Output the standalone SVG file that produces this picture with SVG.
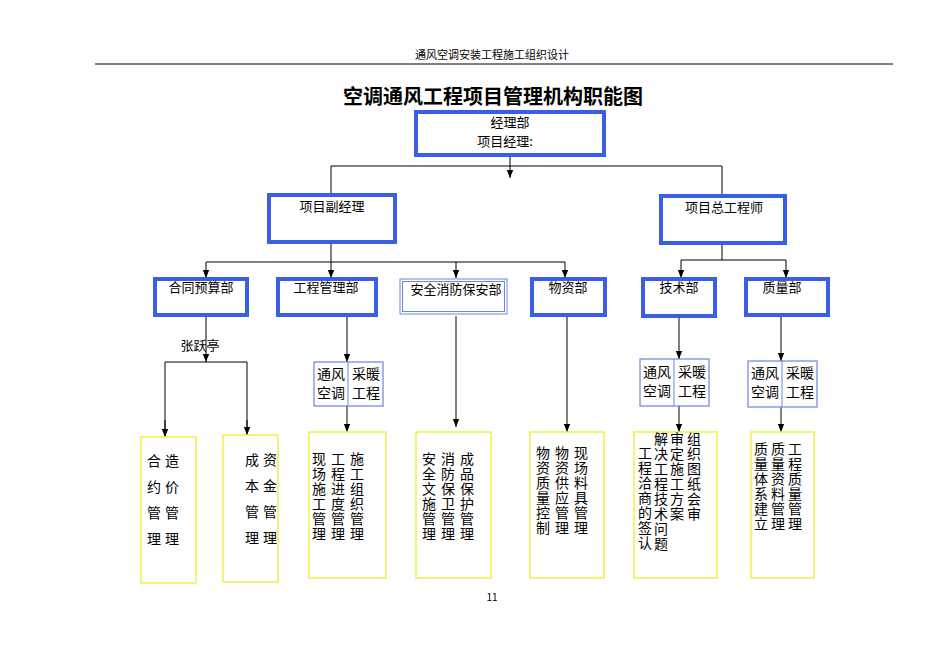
<svg xmlns="http://www.w3.org/2000/svg" width="950" height="672" viewBox="0 0 950 672">
<style>
text{font-family:"Noto Sans CJK SC","Liberation Serif",serif;fill:#000}
.t{font-size:13px}
.b{fill:#fff;stroke:#3a5ee8;stroke-width:4}
.s{fill:#fff;stroke:#6b86e0;stroke-width:1.2}
.y{fill:#fff;stroke:#f2ee4a;stroke-width:1.5}
.v{font-size:14px;writing-mode:vertical-rl;letter-spacing:1px}
.c line,.c path{stroke:#000;stroke-width:1;fill:none}
</style>
<defs><marker id="a" viewBox="0 0 10 10" refX="10" refY="5" markerWidth="8" markerHeight="8" orient="auto"><path d="M0,1L10,5L0,9z" fill="#000"/></marker></defs>
<text x="492" y="59" font-size="11" text-anchor="middle">通风空调安装工程施工组织设计</text>
<line x1="95" y1="64" x2="893" y2="64" stroke="#000"/>
<text x="493" y="104" font-size="20" font-weight="bold" text-anchor="middle">空调通风工程项目管理机构职能图</text>
<text x="492" y="601" font-size="10" font-family="Liberation Serif" text-anchor="middle">11</text>
<g class="c">
<line x1="510" y1="156" x2="510" y2="178" marker-end="url(#a)"/>
<path d="M331,194V166H722V195"/>
<path d="M331,243V262"/>
<line x1="206" y1="262" x2="565" y2="262"/>
<line x1="206" y1="262" x2="206" y2="278" marker-end="url(#a)"/>
<line x1="331" y1="262" x2="331" y2="278" marker-end="url(#a)"/>
<line x1="456" y1="262" x2="456" y2="278" marker-end="url(#a)"/>
<line x1="565" y1="262" x2="565" y2="278" marker-end="url(#a)"/>
<path d="M722,244V260"/>
<line x1="681" y1="260" x2="786" y2="260"/>
<line x1="681" y1="260" x2="681" y2="278" marker-end="url(#a)"/>
<line x1="786" y1="260" x2="786" y2="278" marker-end="url(#a)"/>
<line x1="206" y1="316" x2="206" y2="362" marker-end="url(#a)"/>
<path d="M165,436V362H247V436"/>
<line x1="165" y1="420" x2="165" y2="437" marker-end="url(#a)"/>
<line x1="247" y1="420" x2="247" y2="435" marker-end="url(#a)"/>
<line x1="347" y1="316" x2="347" y2="362" marker-end="url(#a)"/>
<line x1="347" y1="406" x2="347" y2="432" marker-end="url(#a)"/>
<line x1="456" y1="316" x2="456" y2="427" marker-end="url(#a)"/>
<line x1="567" y1="316" x2="567" y2="432" marker-end="url(#a)"/>
<line x1="679" y1="316" x2="679" y2="359" marker-end="url(#a)"/>
<line x1="679" y1="406" x2="679" y2="432" marker-end="url(#a)"/>
<line x1="781" y1="316" x2="781" y2="361" marker-end="url(#a)"/>
<line x1="781" y1="407" x2="781" y2="432" marker-end="url(#a)"/>
</g>
<text x="200" y="350" class="t" text-anchor="middle">张跃亭</text>
<g id="top"><rect x="416" y="112" width="188" height="43" class="b"/><text x="510" y="127" font-size="13" text-anchor="middle">经理部</text><text x="505" y="146" font-size="13" text-anchor="middle">项目经理:</text></g>
<g id="fu"><rect x="269" y="195" width="126" height="47" class="b"/><text x="332" y="211" class="t" text-anchor="middle">项目副经理</text></g>
<g id="zong"><rect x="661" y="196" width="124" height="47" class="b"/><text x="724" y="212" class="t" text-anchor="middle">项目总工程师</text></g>
<g id="d1"><rect x="155" y="279" width="92" height="36" class="b"/><text x="201" y="292" class="t" text-anchor="middle">合同预算部</text></g>
<g id="d2"><rect x="278" y="279" width="98" height="36" class="b"/><text x="326" y="292" class="t" text-anchor="middle">工程管理部</text></g>
<g id="d3"><rect x="400" y="279" width="107" height="35" fill="#fff" stroke="#6b86e0" stroke-width="1"/><rect x="402.5" y="281.5" width="102" height="30" fill="none" stroke="#6b86e0" stroke-width="1"/><text x="456" y="294" class="t" text-anchor="middle">安全消防保安部</text></g>
<g id="d4"><rect x="532" y="279" width="73" height="36" class="b"/><text x="568" y="292" class="t" text-anchor="middle">物资部</text></g>
<g id="d5"><rect x="643" y="279" width="72" height="37" class="b"/><text x="679" y="292" class="t" text-anchor="middle">技术部</text></g>
<g id="d6"><rect x="746" y="279" width="82" height="36" class="b"/><text x="782" y="292" class="t" text-anchor="middle">质量部</text></g>
<g id="s1"><rect x="314" y="362" width="69" height="44" class="s"/><line x1="348" y1="362" x2="348" y2="406" stroke="#6b86e0"/><text x="331" y="379" font-size="14" text-anchor="middle">通风</text><text x="331" y="398" font-size="14" text-anchor="middle">空调</text><text x="366" y="379" font-size="14" text-anchor="middle">采暖</text><text x="366" y="398" font-size="14" text-anchor="middle">工程</text></g>
<g id="s2"><rect x="640" y="359" width="69" height="47" class="s"/><line x1="674" y1="359" x2="674" y2="406" stroke="#6b86e0"/><text x="657" y="377" font-size="14" text-anchor="middle">通风</text><text x="657" y="396" font-size="14" text-anchor="middle">空调</text><text x="692" y="377" font-size="14" text-anchor="middle">采暖</text><text x="692" y="396" font-size="14" text-anchor="middle">工程</text></g>
<g id="s3"><rect x="748" y="361" width="69" height="46" class="s"/><line x1="782" y1="361" x2="782" y2="407" stroke="#6b86e0"/><text x="765" y="378" font-size="14" text-anchor="middle">通风</text><text x="765" y="397" font-size="14" text-anchor="middle">空调</text><text x="800" y="378" font-size="14" text-anchor="middle">采暖</text><text x="800" y="397" font-size="14" text-anchor="middle">工程</text></g>
<g id="b1"><rect x="141" y="437" width="55" height="146" class="y"/><text x="154" y="454" class="v" style="letter-spacing:12px">合约管理</text><text x="172" y="454" class="v" style="letter-spacing:12px">造价管理</text></g>
<g id="b2"><rect x="223" y="435" width="55" height="147" class="y"/><text x="252" y="453" class="v" style="letter-spacing:12px">成本管理</text><text x="270" y="453" class="v" style="letter-spacing:12px">资金管理</text></g>
<g id="b3"><rect x="309" y="432" width="77" height="146" class="y"/><text x="319" y="452" class="v">现场施工管理</text><text x="338" y="452" class="v">工程进度管理</text><text x="357" y="452" class="v">施工组织管理</text></g>
<g id="b4"><rect x="416" y="432" width="75" height="146" class="y"/><text x="429" y="452" class="v">安全文施管理</text><text x="448" y="452" class="v">消防保卫管理</text><text x="467" y="452" class="v">成品保护管理</text></g>
<g id="b5"><rect x="530" y="432" width="74" height="146" class="y"/><text x="543" y="446" class="v">物资质量控制</text><text x="562" y="446" class="v">物资供应管理</text><text x="581" y="446" class="v">现场料具管理</text></g>
<g id="b6"><rect x="634" y="432" width="83" height="146" class="y"/><text x="645" y="446" class="v">工程洽商的签认</text><text x="661" y="432" class="v">解决工程技术问题</text><text x="677" y="432" class="v">审定施工方案</text><text x="694" y="432" class="v">组织图纸会审</text></g>
<g id="b7"><rect x="751" y="432" width="63" height="146" class="y"/><text x="761" y="442" class="v">质量体系建立</text><text x="778" y="442" class="v">质量资料管理</text><text x="795" y="442" class="v">工程质量管理</text></g>
</svg>
